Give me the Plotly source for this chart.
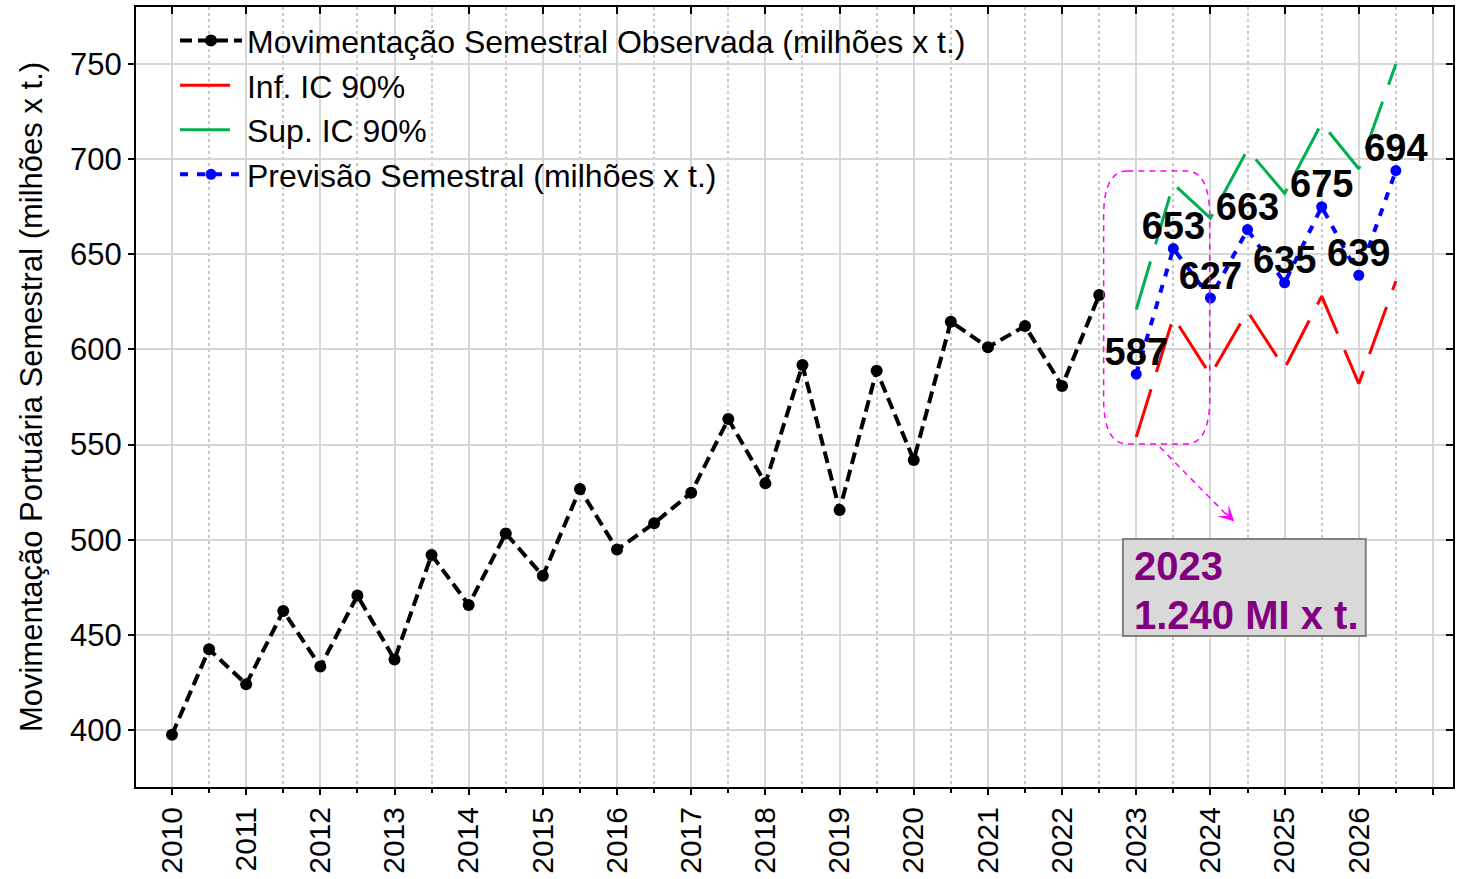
import plotly.graph_objects as go

# ---------------- data ----------------
obs_periods = [2010.0, 2010.5, 2011.0, 2011.5, 2012.0, 2012.5, 2013.0, 2013.5,
               2014.0, 2014.5, 2015.0, 2015.5, 2016.0, 2016.5, 2017.0, 2017.5,
               2018.0, 2018.5, 2019.0, 2019.5, 2020.0, 2020.5, 2021.0, 2021.5,
               2022.0, 2022.5]
obs_values = [397.5, 442.4, 424.0, 462.5, 433.3, 470.6, 437.0, 492.0,
              465.7, 503.3, 481.0, 526.6, 494.8, 508.6, 524.7, 563.4,
              529.6, 591.8, 515.6, 588.8, 541.9, 614.6, 601.1, 612.3,
              580.8, 628.6]

fc_periods = [2023.0, 2023.5, 2024.0, 2024.5, 2025.0, 2025.5, 2026.0, 2026.5]
fc_values = [587, 653, 627, 663, 635, 675, 639, 694]
ci_lower = [554, 617, 586.5, 620, 590, 628, 582, 636]
ci_upper = [621, 687, 669, 705, 682, 719, 695, 750]

year_ticks = [2010, 2011, 2012, 2013, 2014, 2015, 2016, 2017, 2018,
              2019, 2020, 2021, 2022, 2023, 2024, 2025, 2026, 2027]
year_labels = [str(y) for y in year_ticks[:-1]] + [""]
y_ticks = [400, 450, 500, 550, 600, 650, 700, 750]

box_lines = ["2023", "1.240 MI x t."]

# ---------------- figure ----------------
FONT = "Arial, Liberation Sans, sans-serif"
XR = [2009.515, 2027.27]
YR = [370, 780]

fig = go.Figure()

fig.add_trace(go.Scatter(
    x=obs_periods, y=obs_values, mode="lines+markers",
    name="Movimentação Semestral Observada (milhões x t.)",
    line=dict(color="black", width=4, dash="12px,6px"),
    marker=dict(color="black", size=12),
))
fig.add_trace(go.Scatter(
    x=fc_periods, y=ci_lower, mode="lines", name="Inf. IC 90%",
    line=dict(color="#ff0000", width=3, dash="50px,18px"),
))
fig.add_trace(go.Scatter(
    x=fc_periods, y=ci_upper, mode="lines", name="Sup. IC 90%",
    line=dict(color="#00b050", width=3, dash="50px,18px"),
))
fig.add_trace(go.Scatter(
    x=fc_periods, y=fc_values, mode="lines+markers",
    name="Previsão Semestral (milhões x t.)",
    line=dict(color="#0000ff", width=4, dash="8px,9px"),
    marker=dict(color="#0000ff", size=11),
))
fig.add_trace(go.Scatter(
    x=fc_periods, y=fc_values, mode="text",
    text=[str(v) for v in fc_values], textposition="top center",
    textfont=dict(family=FONT, size=38, color="black", weight="bold"),
    showlegend=False, hoverinfo="skip",
))

# rounded dashed highlight around 2023
x0, x1, y0, y1 = 2022.56, 2023.99, 550.3, 693.8
rx, ry = 0.32, 24
path = (f"M{x0+rx},{y1} L{x1-rx},{y1} Q{x1},{y1} {x1},{y1-ry} "
        f"L{x1},{y0+ry} Q{x1},{y0} {x1-rx},{y0} L{x0+rx},{y0} "
        f"Q{x0},{y0} {x0},{y0+ry} L{x0},{y1-ry} Q{x0},{y1} {x0+rx},{y1} Z")
fig.add_shape(type="path", path=path, xref="x", yref="y",
              line=dict(color="#ff00ff", width=1.5, dash="6px,5px"))
fig.add_shape(type="line", xref="x", yref="y",
              x0=2023.317, y0=548.7, x1=2024.27, y1=511.0,
              line=dict(color="#ff00ff", width=1.5, dash="6px,5px"))
fig.add_annotation(x=2024.32, y=509.5, xref="x", yref="y", text="",
                   showarrow=True, ax=-10, ay=-10, arrowhead=3,
                   arrowsize=1.8, arrowwidth=1.5, arrowcolor="#ff00ff")

# grey summary box
fig.add_shape(type="rect", xref="x", yref="y",
              x0=2022.82, x1=2026.094, y0=449.4, y1=500.4,
              fillcolor="#d9d9d9", line=dict(color="#808080", width=2),
              layer="above")
for txt, yc in zip(box_lines, [486.0, 460.6]):
    fig.add_annotation(x=2022.94, y=yc, xref="x", yref="y",
                       xanchor="left", yanchor="middle", align="left",
                       text="<b>" + txt + "</b>", showarrow=False,
                       font=dict(family=FONT, size=40, color="#800080"))

grid_major = "#d6d6d6"
fig.update_layout(
    width=1458, height=879, autosize=False,
    margin=dict(l=136, r=5, t=7, b=92),
    paper_bgcolor="white", plot_bgcolor="white",
    font=dict(family=FONT, size=31, color="black"),
    showlegend=True,
    legend=dict(x=0.0296, y=0.992, xanchor="left", yanchor="top",
                bgcolor="rgba(0,0,0,0)", font=dict(size=32),
                itemwidth=62, tracegroupgap=0),
    xaxis=dict(range=XR, tickmode="array", tickvals=year_ticks,
               ticktext=year_labels, tickangle=-90,
               tickfont=dict(size=30), automargin=False,
               ticks="outside", ticklen=6, tickwidth=2, tickcolor="black",
               showline=True, linecolor="black", linewidth=2, mirror=True,
               showgrid=True, gridcolor=grid_major, gridwidth=2,
               zeroline=False,
               minor=dict(tick0=2010, dtick=0.5, ticks="outside", ticklen=4,
                          tickwidth=1.5, tickcolor="black", showgrid=True,
                          gridcolor="#c8c8c8", gridwidth=1.5, griddash="dot")),
    yaxis=dict(range=YR, tickmode="array", tickvals=y_ticks,
               ticks="outside", ticklen=6, tickwidth=2, tickcolor="black",
               tickfont=dict(size=31), automargin=False,
               showline=True, linecolor="black", linewidth=2, mirror=True,
               showgrid=True, gridcolor=grid_major, gridwidth=2,
               zeroline=False,
               title=dict(text="Movimentação Portuária Semestral (milhões x t.)",
                          font=dict(size=31), standoff=18)),
    xaxis2=dict(range=XR, overlaying="x", side="top", tickmode="array",
                tickvals=year_ticks, ticks="inside", ticklen=7, tickwidth=2,
                tickcolor="black", showticklabels=False, showgrid=False,
                showline=False, zeroline=False, automargin=False),
    yaxis2=dict(range=YR, overlaying="y", side="right", tickmode="array",
                tickvals=y_ticks, ticks="inside", ticklen=7, tickwidth=2,
                tickcolor="black", showticklabels=False, showgrid=False,
                showline=False, zeroline=False, automargin=False),
)
# invisible trace to anchor the mirrored axes
fig.add_trace(go.Scatter(x=[XR[0]], y=[YR[0]], xaxis="x2", yaxis="y2",
                         mode="markers", marker=dict(opacity=0),
                         showlegend=False, hoverinfo="skip"))

fig.write_html("out.html", config={"displayModeBar": False},
               post_script="document.body.style.margin='0';"
                           "document.body.style.overflow='hidden';")
